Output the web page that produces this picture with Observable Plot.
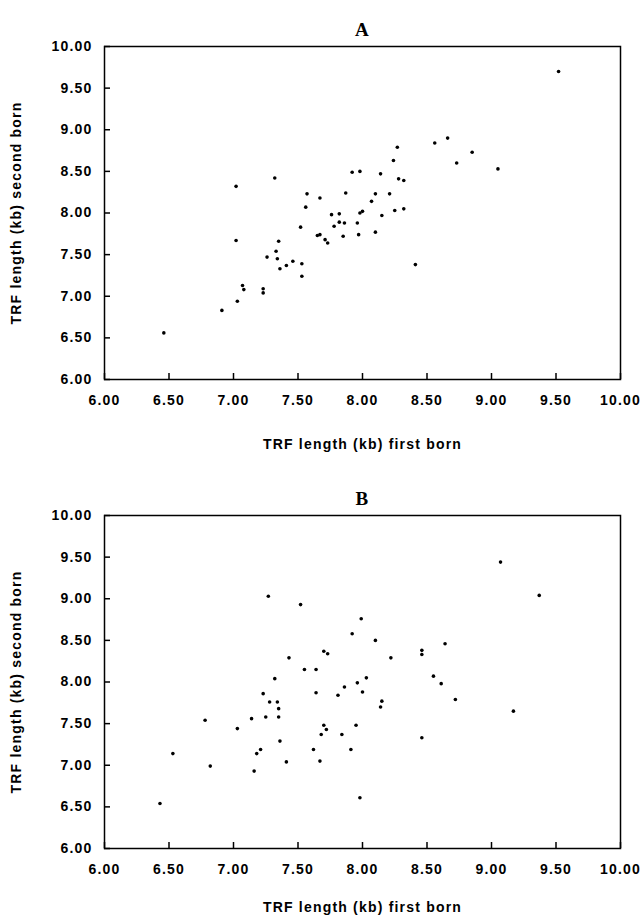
<!DOCTYPE html>
<html><head><meta charset="utf-8">
<script src="https://cdn.jsdelivr.net/npm/d3@7"></script>
<script src="https://cdn.jsdelivr.net/npm/@observablehq/plot@0.6"></script>
<style>body{margin:0;background:#fff} svg{display:block}</style>
</head><body><div id="chart"></div>
<script>
// Panel A: TRF length (kb) first born vs second born
const aFirst  = [7.02,7.32,7.57,7.67,7.56,7.87,7.92,7.98,9.52,8.56,8.66,8.27,8.85,8.24,8.73,9.05,8.14,8.28,8.32,8.10,8.21,8.07,8.32,8.25,7.52,7.02,7.35,7.33,7.26,7.34,7.36,7.41,7.46,7.53,7.53,7.07,7.08,7.23,7.23,7.03,6.91,6.46,7.65,7.67,7.71,7.73,7.76,7.82,7.78,7.82,7.86,7.85,7.96,7.97,7.98,8.00,8.15,8.10,8.41];
const aSecond = [8.32,8.42,8.23,8.18,8.07,8.24,8.49,8.50,9.70,8.84,8.90,8.79,8.73,8.63,8.60,8.53,8.47,8.41,8.39,8.23,8.23,8.14,8.05,8.03,7.83,7.67,7.66,7.54,7.47,7.45,7.33,7.37,7.42,7.39,7.24,7.13,7.08,7.09,7.04,6.94,6.83,6.56,7.73,7.74,7.68,7.64,7.98,7.99,7.84,7.89,7.88,7.72,7.88,7.74,8.00,8.02,7.97,7.77,7.38];
// Panel B
const bFirst  = [7.27,7.52,7.99,7.92,7.43,7.70,7.73,7.55,7.64,7.32,9.07,9.37,8.10,8.64,8.46,8.46,8.22,8.03,8.55,7.23,7.64,7.81,7.86,7.96,8.00,7.28,7.34,7.35,7.14,7.25,7.35,6.78,7.03,7.70,7.72,7.68,7.84,7.95,7.36,7.21,7.18,7.62,7.91,6.53,6.82,7.41,7.67,7.16,6.43,7.98,8.61,8.72,8.15,8.14,9.17,8.46];
const bSecond = [9.03,8.93,8.76,8.58,8.29,8.37,8.34,8.15,8.15,8.04,9.44,9.04,8.50,8.46,8.38,8.33,8.29,8.05,8.07,7.86,7.87,7.84,7.94,7.99,7.88,7.76,7.76,7.68,7.56,7.58,7.58,7.54,7.44,7.48,7.43,7.37,7.37,7.48,7.29,7.19,7.14,7.19,7.19,7.14,6.99,7.04,7.05,6.93,6.54,6.61,7.98,7.79,7.77,7.70,7.65,7.33];

const xTicks = [6.00,6.50,7.00,7.50,8.00,8.50,9.00,9.50,10.00];
const yTicks = [6.00,6.50,7.00,7.50,8.00,8.50,9.00,9.50,10.00];
const xLabel = "TRF length (kb) first born";
const yLabel = "TRF length (kb) second born";
const panelTitles = ["A", "B"];

const fmt = d3.format(".2f");

function panel(title, xs, ys, o) {
  const data = xs.map((x, i) => ({x, y: ys[i]}));
  const W = 642, ML = 104, MR = 22;
  const plotW = W - ML - MR, plotH = o.height - o.top - o.bottom;
  return Plot.plot({
    width: W, height: o.height,
    marginTop: o.top, marginBottom: o.bottom, marginLeft: ML, marginRight: MR,
    style: {fontFamily: "'Liberation Sans', Arial, sans-serif", fontSize: "14px", fontWeight: "bold", letterSpacing: "1.2px", background: "white", color: "black"},
    x: {domain: [6, 10]},
    y: {domain: [6, 10]},
    marks: [
      Plot.frame({stroke: "black", strokeWidth: 1.5}),
      Plot.tickX(xTicks, {x: d => d, insetTop: plotH - 6, stroke: "black", strokeWidth: 1.5}),
      Plot.tickY(yTicks, {y: d => d, insetRight: plotW - 6, stroke: "black", strokeWidth: 1.5}),
      Plot.axisX(xTicks, {tickSize: 0, tickPadding: 16, tickFormat: fmt, label: xLabel, labelAnchor: "center", labelOffset: o.xlo, labelArrow: false}),
      Plot.axisY(yTicks, {tickSize: 0, tickPadding: 12, tickFormat: fmt, label: yLabel, labelAnchor: "center", labelOffset: 93, labelArrow: false}),
      Plot.dot(data, {x: "x", y: "y", r: 1.8, fill: "black", stroke: "none"}),
      Plot.text([title], {frameAnchor: "top", dy: -24, fontFamily: "'Liberation Serif', 'Times New Roman', serif", fontWeight: "bold", fontSize: 19})
    ]
  });
}

const root = document.getElementById("chart");
root.append(panel(panelTitles[0], aFirst, aSecond, {height: 470, top: 46, bottom: 91, xlo: 69}));
root.append(panel(panelTitles[1], bFirst, bSecond, {height: 448, top: 45, bottom: 70, xlo: 63}));
</script>
</body></html>
